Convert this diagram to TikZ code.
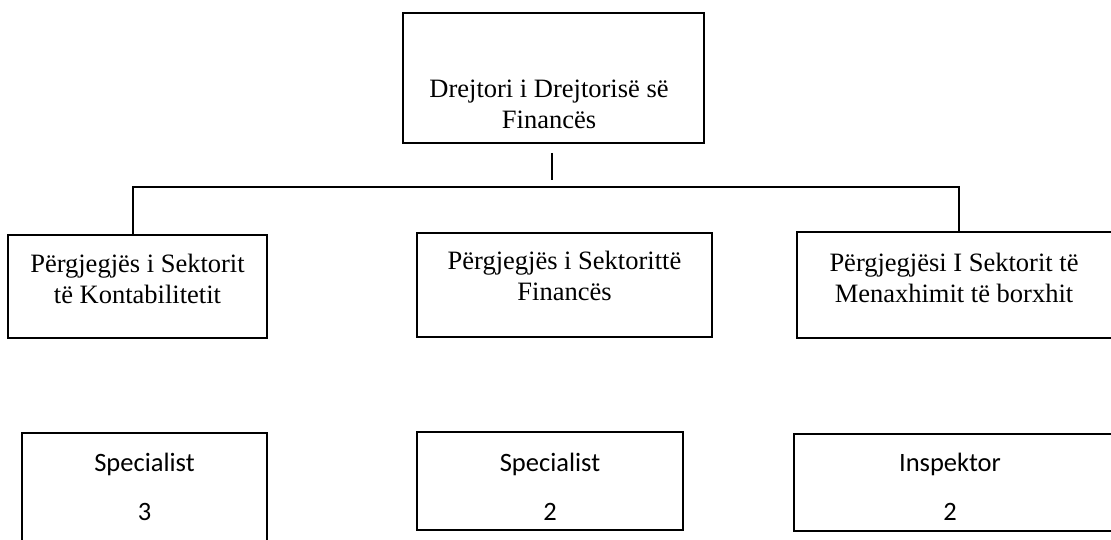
\documentclass[tikz,border=0pt]{standalone}
\usepackage{fontspec}
\setmainfont{Liberation Serif}
\newfontfamily\calfont{Carlito}
\usetikzlibrary{positioning}

\begin{document}
\begin{tikzpicture}[x=1pt, y=-1pt,
    box/.style={draw, line width=2pt, inner sep=0pt},
    serif/.style={align=center, font=\fontsize{26.5}{31}\selectfont, inner sep=0pt},
    sans/.style={align=center, font=\calfont\fontsize{26.5}{49}\selectfont, inner sep=0pt}]
    \useasboundingbox (0,0) rectangle (1111,540);
    \clip (0,0) rectangle (1111,540);
    % drejtori
    \node[box, minimum width=301pt, minimum height=130pt] (drejtori) at (553.5,78) {};
    \node[serif] (drejtoriTxt) at (549,104) {Drejtori i Drejtorisë së\\Financës};
    % sektoret
    \node[box, minimum width=259pt, minimum height=103pt] (sekKont) at (137.5,286.5) {};
    \node[serif] (sekKontTxt) at (137.5,279) {Përgjegjës i Sektorit\\të Kontabilitetit};
    \node[box, minimum width=295pt, minimum height=104pt] (sekFin) at (564.5,285) {};
    \node[serif] (sekFinTxt) at (564.5,276) {Përgjegjës i Sektorittë\\Financës};
    \node[box, minimum width=321pt, minimum height=106pt] (sekBorx) at (957.5,285) {};
    \node[serif] (sekBorxTxt) at (954,278) {Përgjegjësi I Sektorit të\\Menaxhimit të borxhit};
    % stafi
    \node[box, minimum width=245pt, minimum height=116pt] (stafKont) at (144.5,491) {};
    \node[sans] (stafKontTxt) at (144.5,487) {Specialist\\3};
    \node[box, minimum width=266pt, minimum height=98pt] (stafFin) at (550,481) {};
    \node[sans] (stafFinTxt) at (550,487) {Specialist\\2};
    \node[box, minimum width=324pt, minimum height=97pt] (stafBorx) at (956,482.5) {};
    \node[sans] (stafBorxTxt) at (950,487) {Inspektor\\2};
    % lidhjet
    \coordinate (stubTop) at (552,153);
    \coordinate (stubEnd) at (552,180);
    \coordinate (busL) at (133,187);
    \coordinate (busR) at (959,187);
    \draw[line width=2pt] (stubTop) -- (stubEnd);
    \draw[line width=2pt] (busL |- sekKont.north) -- (busL) -- (busR) -- (busR |- sekBorx.north);
\end{tikzpicture}
\end{document}
